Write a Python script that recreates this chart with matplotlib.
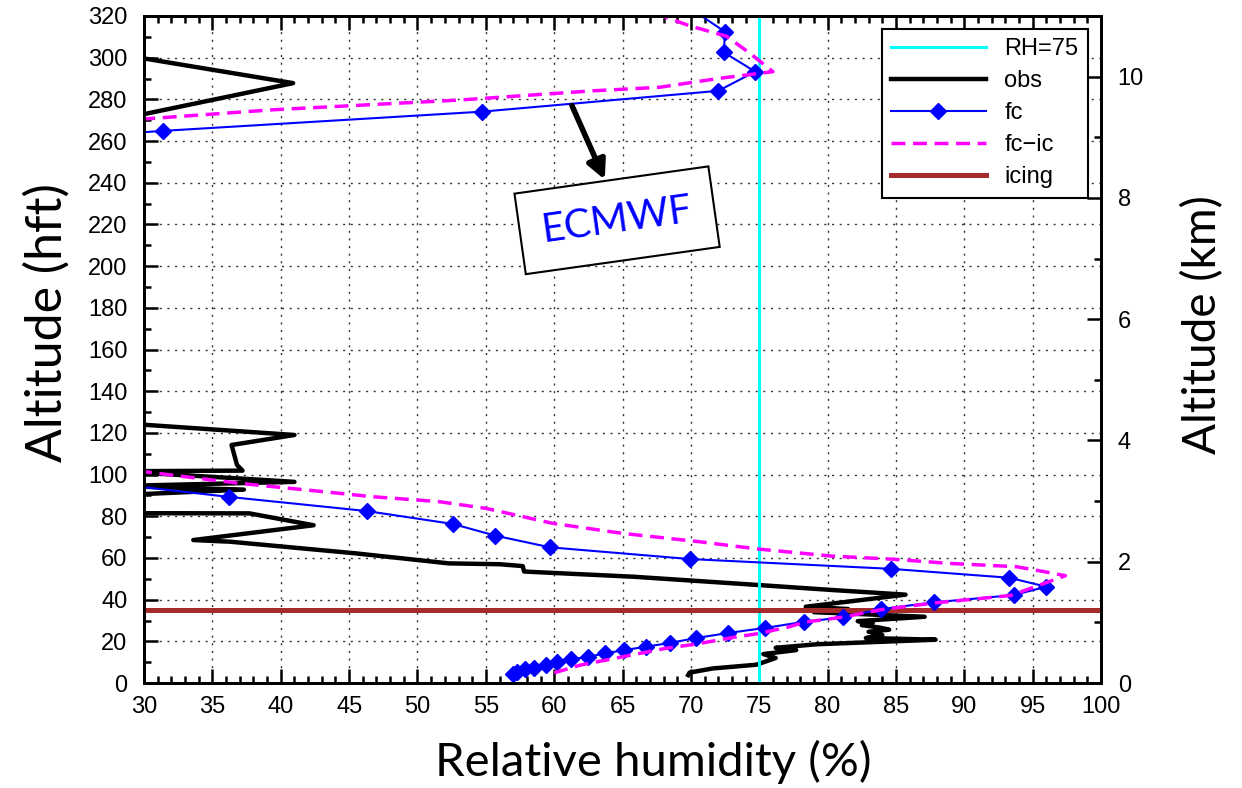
#!/usr/bin/env python

import numpy as np
import matplotlib
matplotlib.use("Agg")
from matplotlib import pyplot as plt
from matplotlib.ticker import MultipleLocator

## relative humidity [%] vs altitude [hft]
## points at rh < 30 lie off the left edge (clipped)

obs_rh = [69.8, 69.9, 71.6, 74.8, 76.2, 75.3, 77.7, 76.2, 79.2, 87.9, 82.8, 84.0,
          83.0, 84.5, 83.8, 82.5, 83.3, 82.2, 87.1, 79.0, 81.5, 78.4, 85.7, 80.4,
          75.0, 65.8, 58.4, 57.8, 57.7, 56.0, 52.3, 45.5, 36.3, 33.6, 42.4, 37.7,
          27.0, 27.0, 37.3, 28.0, 41.0, 36.8, 28.0, 37.2, 36.8, 36.4, 41.0, 28.0,
          20.0, 20.0, 28.0, 40.9, 28.0, 20.0]
obs_alt = [3.8, 5.0, 7.0, 8.8, 12.0, 13.9, 15.8, 16.9, 18.6, 20.8, 21.6, 23.0,
           24.6, 25.6, 26.6, 27.8, 28.9, 29.7, 31.8, 34.0, 35.5, 36.6, 42.4, 44.6,
           47.0, 51.0, 53.3, 53.5, 56.1, 57.0, 57.4, 62.2, 67.8, 68.6, 75.7, 81.4,
           81.5, 89.8, 92.8, 94.5, 96.5, 98.2, 101.6, 101.9, 104.6, 114.2, 119.0, 124.8,
           160.0, 250.0, 270.2, 287.8, 301.8, 330.0]

fc_rh = [57.0, 57.3, 57.9, 58.5, 59.4, 60.2, 61.2, 62.5, 63.7, 65.1, 66.7, 68.5,
         70.4, 72.7, 75.4, 78.3, 81.1, 83.9, 87.8, 93.6, 96.0, 93.3, 84.6, 69.9,
         59.7, 55.7, 52.6, 46.3, 36.2, 25.0, 20.0, 20.0, 25.0, 31.4, 54.7, 72.0,
         74.7, 72.4, 72.5, 68.5]
fc_alt = [4.3, 5.4, 6.6, 7.3, 8.5, 9.9, 11.4, 12.6, 14.2, 15.8, 17.4, 19.3,
          21.6, 24.0, 26.4, 29.4, 31.5, 35.5, 38.7, 42.2, 46.2, 50.5, 54.8, 59.5,
          65.1, 70.7, 76.3, 82.5, 89.3, 97.6, 150.0, 240.0, 262.0, 264.9, 274.1, 284.1,
          293.3, 302.6, 312.4, 330.0]

fcic_rh = [60.0, 61.9, 65.0, 68.2, 70.4, 73.1, 75.0, 77.2, 78.3, 81.1, 83.9, 87.8,
           93.4, 97.4, 95.2, 93.8, 88.9, 84.8, 80.3, 74.9, 70.6, 65.0, 59.9, 55.0,
           51.6, 46.7, 41.9, 37.0, 30.0, 20.0, 20.0, 25.0, 30.0, 39.4, 53.1, 62.8,
           67.7, 72.1, 76.0, 74.3, 72.6, 69.9, 67.7, 65.0]
fcic_alt = [4.9, 8.6, 12.6, 16.7, 18.7, 21.9, 23.8, 27.0, 29.2, 31.6, 35.2, 38.4,
            42.0, 51.5, 54.2, 55.8, 57.4, 59.4, 60.9, 64.3, 67.8, 71.8, 76.6, 83.8,
            87.0, 89.4, 92.6, 95.8, 101.4, 110.0, 250.0, 268.0, 270.6, 275.0, 279.7, 284.1,
            285.8, 290.1, 293.3, 302.2, 310.3, 315.3, 320.5, 325.0]

rh_threshold = 75
icing_alt = 35

plt.rcParams['font.family'] = ['Liberation Sans', 'DejaVu Sans']

fig = plt.figure(figsize=(12.42, 7.88), dpi=100)
ax = fig.add_axes([0.116, 0.1332, 0.7705, 0.8465])

ax.axvline(rh_threshold, color='#00ffff', lw=2.2, label='RH=75', zorder=4)
ax.plot(obs_rh, obs_alt, color='black', lw=3.2, label='obs', zorder=3)
ax.plot(fc_rh, fc_alt, color='#0000ff', lw=1.5, marker='D', ms=8,
        label='fc', zorder=6)
l_ic, = ax.plot(fcic_rh, fcic_alt, color='#ff00ff', lw=2.5, ls='--',
                label='fc\u2212ic', zorder=7)
l_ic.set_dashes([4, 2.2])
ax.axhline(icing_alt, color='#a52a2a', lw=3.6, label='icing', zorder=5)

ax.set_xlim(30, 100)
ax.set_ylim(0, 320)
ax.xaxis.set_major_locator(MultipleLocator(5))
ax.xaxis.set_minor_locator(MultipleLocator(1))
ax.yaxis.set_major_locator(MultipleLocator(20))
ax.yaxis.set_minor_locator(MultipleLocator(10))
ax.tick_params(which='both', direction='in', top=True, right=False,
               labelsize=17, width=1.8)
ax.tick_params(which='major', length=10)
ax.tick_params(which='minor', length=5)
ax.tick_params(axis='x', pad=9)
ax.tick_params(axis='y', pad=12)
ax.grid(True, which='major', ls=(0, (1.5, 4)), color='#333333', lw=1.0)
for s in ax.spines.values():
    s.set_linewidth(2.0)

ax.set_xlabel('Relative humidity (%)', family='Lato', fontsize=34)
ax.xaxis.set_label_coords(0.532, -0.085)
ax.set_ylabel('Altitude (hft)', family='Lato', fontsize=36)
ax.yaxis.set_label_coords(-0.077, 0.54)

## right axis in km
ax2 = ax.twinx()
ax2.set_ylim(0, 11.0)
ax2.yaxis.set_major_locator(MultipleLocator(2))
ax2.yaxis.set_minor_locator(MultipleLocator(1))
ax2.tick_params(which='both', direction='in', labelsize=17, width=1.8, pad=12)
ax2.tick_params(which='major', length=10)
ax2.tick_params(which='minor', length=5)
ax2.set_ylabel('Altitude (km)', family='Lato', fontsize=33)
ax2.yaxis.set_label_coords(1.084, 0.537)
for s in ax2.spines.values():
    s.set_linewidth(2.0)

leg = ax.legend(loc='upper right', fontsize=17, handlelength=4.0,
                fancybox=False, framealpha=1, edgecolor='black',
                borderaxespad=0.55, labelspacing=0.42)
leg.get_frame().set_linewidth(1.5)
leg.set_zorder(20)

## ECMWF annotation
ax.annotate('', xy=(63.7, 241.5), xytext=(61.3, 277.0),
            arrowprops=dict(arrowstyle='-|>', lw=4, color='black',
                            mutation_scale=28, shrinkA=0, shrinkB=0),
            zorder=15)
ax.text(64.6, 222.0, 'ECMWF', family='Lato', fontsize=29, color='#0000ff',
        rotation=8, ha='center', va='center', rotation_mode='anchor',
        bbox=dict(boxstyle='square,pad=0.55', fc='white', ec='black', lw=1.5),
        zorder=15)

fig.savefig('out.png', dpi=100)
